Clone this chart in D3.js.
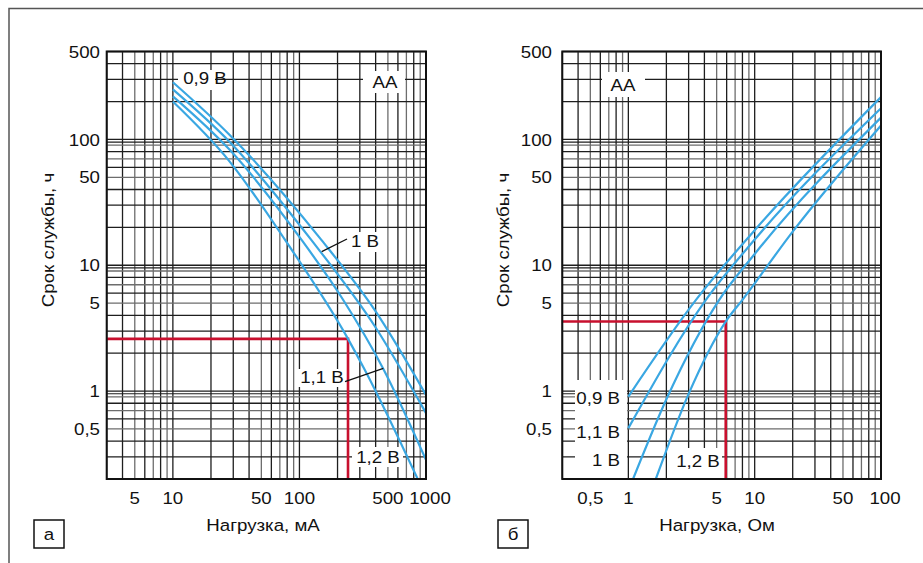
<!DOCTYPE html>
<html><head><meta charset="utf-8">
<script src="https://cdn.jsdelivr.net/npm/d3@7"></script>
<style>
html,body{margin:0;padding:0;background:#fff;}
svg text{font-family:"Liberation Sans",Arial,Helvetica,sans-serif;fill:#111;}
</style></head>
<body>
<svg id="chart" width="923" height="563"></svg>
<script>
// ---------- data ----------
// Panel a: service life (h) vs load current (mA)
const seriesA_names = ["0,9 В","1 В","1,1 В","1,2 В"];
const a_09 = [[10,285],[28,109],[149,15.9],[400,4.3],[1000,0.933]];
const a_10 = [[10,250],[28,96],[124,15.9],[400,3.2],[1000,0.668]];
const a_11 = [[10,220],[28,83],[104,15.9],[220,5.37],[457,1.52],[1000,0.284]];
const a_12 = [[10,200],[28,67],[77,15.9],[242,2.6],[328,1.48],[860,0.2]];
const a_marker = [242, 2.6];
// Panel b: service life (h) vs load resistance (Ohm)
const b_09 = [[1,0.905],[3.43,5.31],[10,19],[100,217]];
const b_11 = [[1,0.507],[4.11,5.31],[10,16],[100,177]];
const b_10 = [[1.09,0.2],[2,0.86],[5.24,5.31],[10,12.3],[100,149]];
const b_12 = [[1.65,0.2],[3,0.95],[5.9,3.57],[8,5.31],[20,18.5],[100,129]];
const b_marker = [5.9, 3.57];
// ticks
const yTicks = [500,100,50,10,5,1,0.5];
const xTicksA = [5,10,50,100,500,1000];
const xTicksB = [0.5,1,5,10,50,100];
const yDomain = [0.2,500];
const xDomainA = [3,1000];
const xDomainB = [0.3,100];

// ---------- drawing ----------
const svg = d3.select("#chart");
const BLUE = "#3aa7e2", RED = "#c8102e";
const FS = 17, SX = 1.1;
const fmt = v => String(v).replace(".", ",");

function addText(g, x, y, str, anchor, rotate){
  const t = g.append("text")
    .attr("transform", `translate(${x},${y})` + (rotate?` rotate(${rotate})`:"") + ` scale(${SX},1)`)
    .attr("dy","0.36em").attr("text-anchor", anchor||"middle").attr("font-size", FS).text(str);
  return t;
}

// outer frame
svg.append("path").attr("d","M9,563 V8.5 H923").attr("fill","none").attr("stroke","#555").attr("stroke-width",1.5);

function gridValues(domain){
  const out=[];
  for(let k=-2;k<=4;k++){
    for(let m=1;m<=9;m++){
      const v=m*Math.pow(10,k);
      if(v>=domain[0]*0.999 && v<=domain[1]*1.001) out.push({v,m});
    }
  }
  return out;
}

function panel(opt){
  const x = d3.scaleLog().domain(opt.xDomain).range([opt.x0,opt.x1]);
  const y = d3.scaleLog().domain(yDomain).range([479,51.5]);
  const g = svg.append("g");
  const greyM = new Set([5,7,9]);
  // vertical grid
  gridValues(opt.xDomain).forEach(d=>{
    g.append("line").attr("x1",x(d.v)).attr("x2",x(d.v)).attr("y1",y.range()[1]).attr("y2",y.range()[0])
      .attr("stroke", greyM.has(d.m)?"#6d6d6d":"#1e1e1e").attr("stroke-width",1.3);
  });
  // horizontal grid
  gridValues(yDomain).forEach(d=>{
    g.append("line").attr("x1",opt.x0).attr("x2",opt.x1).attr("y1",y(d.v)).attr("y2",y(d.v))
      .attr("stroke", greyM.has(d.m)?"#6d6d6d":"#1e1e1e").attr("stroke-width",1.3);
    if(d.m===1 && d.v*0.95>yDomain[0]){
      g.append("line").attr("x1",opt.x0).attr("x2",opt.x1).attr("y1",y(d.v*0.952)).attr("y2",y(d.v*0.952))
        .attr("stroke","#1e1e1e").attr("stroke-width",1.2);
    }
  });
  // white label backgrounds
  opt.boxes.forEach(b=>{
    g.append("rect").attr("x",b[0]).attr("y",b[1]).attr("width",b[2]).attr("height",b[3]).attr("fill","#fff");
  });
  // red guide lines
  const m = opt.marker;
  g.append("path").attr("d",`M${opt.x0},${y(m[1])} H${x(m[0])} V${y.range()[0]}`)
    .attr("fill","none").attr("stroke",RED).attr("stroke-width",2.6);
  // curves
  const line = d3.line().x(d=>x(d[0])).y(d=>y(d[1])).curve(d3.curveMonotoneX);
  g.append("clipPath").attr("id","clip"+opt.id).append("rect")
    .attr("x",opt.x0).attr("y",51.5).attr("width",opt.x1-opt.x0).attr("height",479-51.5);
  opt.series.forEach(s=>{
    g.append("path").attr("d",line(s)).attr("fill","none").attr("stroke",BLUE)
      .attr("stroke-width",2.2).attr("clip-path",`url(#clip${opt.id})`);
  });
  // plot frame
  g.append("rect").attr("x",opt.x0).attr("y",51.5).attr("width",opt.x1-opt.x0).attr("height",479-51.5)
    .attr("fill","none").attr("stroke","#111").attr("stroke-width",2);
  // y tick labels
  yTicks.forEach(v=> addText(g, opt.yLabelX, y(v), fmt(v), "end"));
  // x tick labels (last one nudged right as in the original)
  opt.xTicks.forEach((v,i)=> addText(g, x(v) + (i===opt.xTicks.length-1?4:0), 498, fmt(v), "middle"));
  // axis titles
  addText(g, opt.titleX, 525, opt.xTitle, "middle");
  addText(g, opt.yTitleX, 240, "Срок службы, ч", "middle", -90);
  // panel letter box
  g.append("rect").attr("x",opt.boxX).attr("y",520).attr("width",30).attr("height",28)
    .attr("fill","#fff").attr("stroke","#111").attr("stroke-width",1.5);
  addText(g, opt.boxX+15, 534, opt.letter, "middle");
  // labels
  opt.labels.forEach(l=> addText(g, l[0], l[1], l[2], l[3]||"middle"));
  (opt.leaders||[]).forEach(p=>{
    g.append("line").attr("x1",p[0]).attr("y1",p[1]).attr("x2",p[2]).attr("y2",p[3])
      .attr("stroke","#111").attr("stroke-width",1.3);
  });
  return {x,y};
}

panel({
  id:"a", xDomain:xDomainA, x0:106.7, x1:426, marker:a_marker,
  series:[a_09,a_10,a_11,a_12], xTicks:xTicksA, yLabelX:100, titleX:263, yTitleX:48,
  xTitle:"Нагрузка, мА", boxX:34, letter:"а",
  boxes:[[178,70,37,20],[363,71,42,22],[349,232,33,20],[352,447,51,20],[298,369,47,18]],
  labels:[[205,78,seriesA_names[0]],[385,82,"АА"],[365,241,seriesA_names[1]],[322,377,seriesA_names[2]],[378,457,seriesA_names[3]]],
  leaders:[[321.7,251.7,347,239],[345,381.7,383.3,368.3]]
});
panel({
  id:"b", xDomain:xDomainB, x0:562.3, x1:881, marker:b_marker,
  series:[b_09,b_11,b_10,b_12], xTicks:xTicksB, yLabelX:552, titleX:717, yTitleX:503,
  xTitle:"Нагрузка, Ом", boxX:498, letter:"б",
  boxes:[[602,72,43,25],[575,380,52,99],[667,448,55,31]],
  labels:[[623,85,"АА"],[620,398,"0,9 В","end"],[620,431.5,"1,1 В","end"],[620,460,"1 В","end"],[698,461,"1,2 В"]]
});
</script>
</body></html>
